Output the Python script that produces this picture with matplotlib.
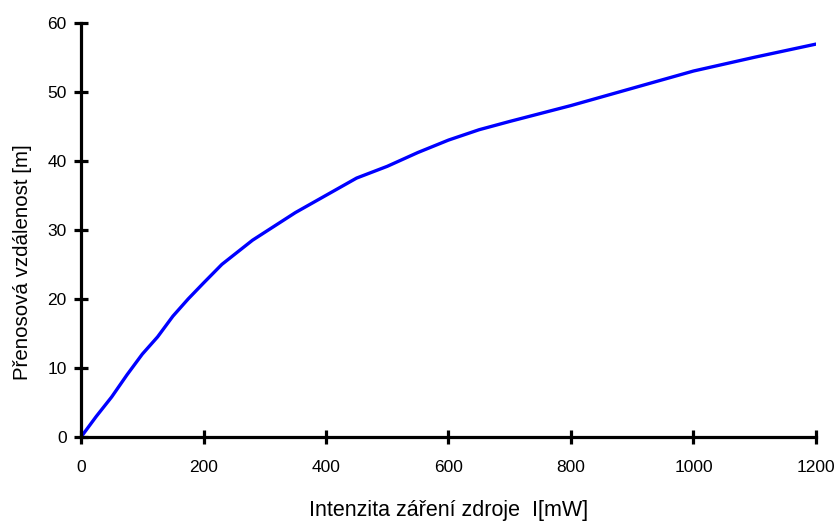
import matplotlib.pyplot as plt

plt.rcParams['font.family'] = ['Liberation Sans', 'DejaVu Sans']

# values
intensity = [0, 25, 50, 75, 100, 125, 150, 175, 200, 230, 280, 350, 400, 450, 500,
             550, 600, 650, 700, 800, 900, 1000, 1100, 1200]
distance = [0, 3, 5.8, 9, 12, 14.5, 17.5, 20, 22.3, 25, 28.5, 32.5, 35, 37.5, 39.2,
            41.2, 43, 44.5, 45.7, 48, 50.5, 53, 55, 56.9]

xticks = [0, 200, 400, 600, 800, 1000, 1200]
yticks = [0, 10, 20, 30, 40, 50, 60]

fig = plt.figure(figsize=(8.38, 5.24), dpi=100)
ax = fig.add_axes([0.0967, 0.166, 0.877, 0.7907])

ax.plot(intensity, distance, color='#0000ff', linewidth=2.4, solid_capstyle='round')

ax.set_xlim(0, 1200)
ax.set_ylim(0, 60)
ax.set_xticks(xticks)
ax.set_yticks(yticks)

for side in ['top', 'right']:
    ax.spines[side].set_visible(False)
for side in ['left', 'bottom']:
    ax.spines[side].set_linewidth(2.3)

ax.tick_params(direction='inout', length=10.5, width=2.3, labelsize=12.5)
ax.tick_params(axis='x', pad=11)
ax.tick_params(axis='y', pad=5)
ax.set_xlabel('Intenzita záření zdroje  I[mW]', fontsize=15.5, labelpad=18)
ax.set_ylabel('Přenosová vzdálenost [m]', fontsize=14.8)
ax.yaxis.set_label_coords(-0.067, 0.422)

fig.savefig('out.png', dpi=100)
